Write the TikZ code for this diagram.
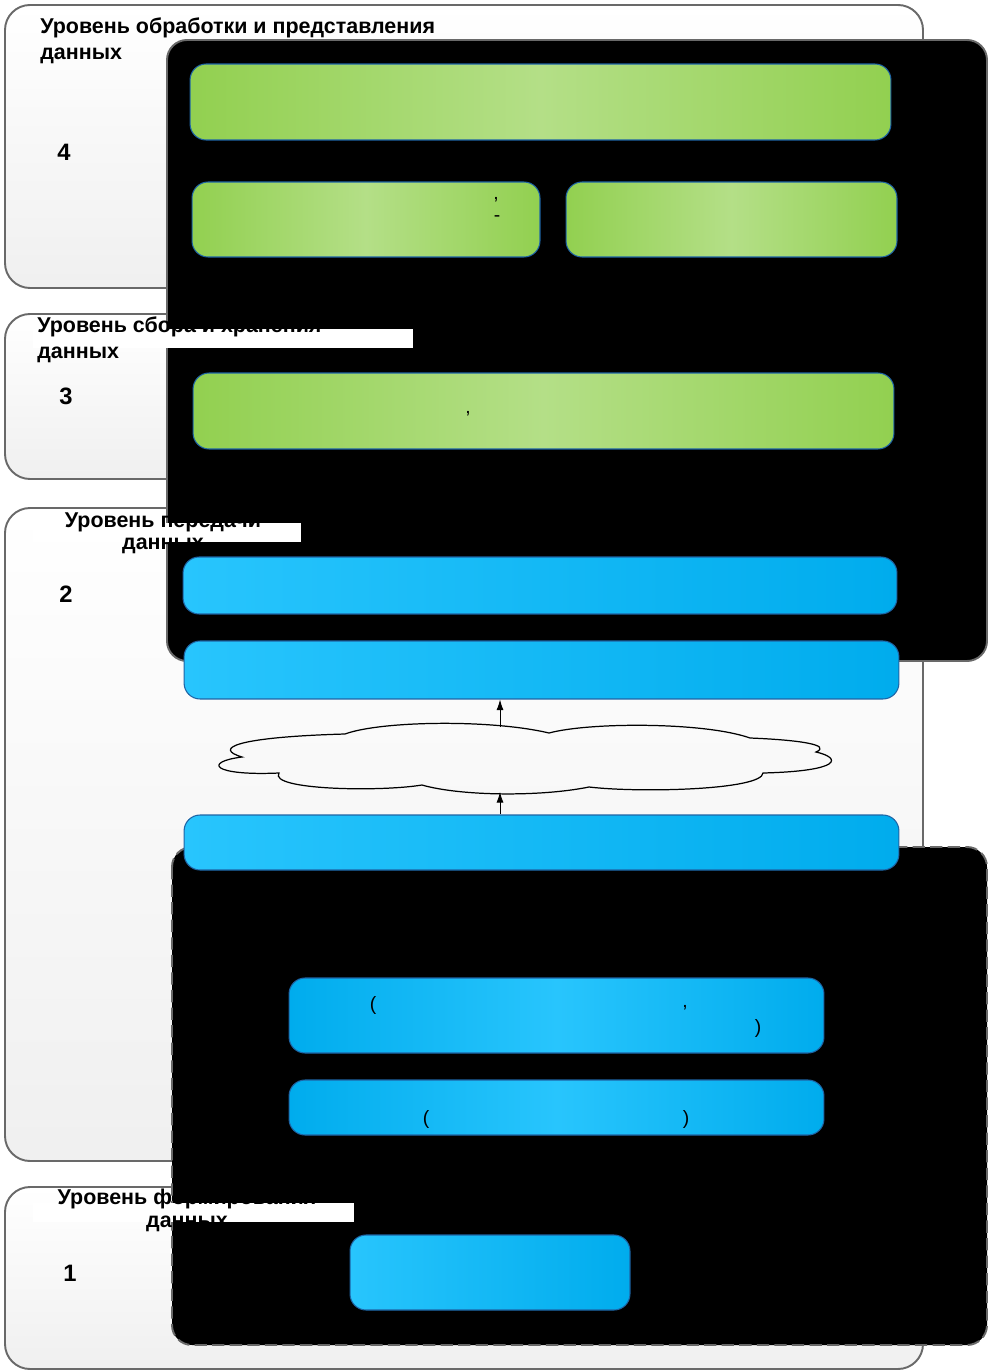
\documentclass[tikz,border=0pt]{standalone}
\usepackage{fontspec}
\setmainfont{Liberation Sans}
\usetikzlibrary{arrows.meta}
\definecolor{grdark}{RGB}{146,208,80}
\definecolor{grlight}{RGB}{180,223,135}
\definecolor{bllight}{RGB}{40,197,253}
\definecolor{bldark}{RGB}{0,172,237}
\definecolor{boxline}{RGB}{30,100,165}
\definecolor{panelline}{RGB}{105,105,105}
\begin{document}
\begin{tikzpicture}[x=0.02cm,y=-0.02cm,
	levelbox/.style={draw=panelline,line width=1.1pt,rounded corners=0.5cm,top color=white,bottom color=gray!12},
	darkpanel/.style={fill=black,draw=panelline,line width=1.1pt,rounded corners=0.4cm},
	greenbox/.style={draw=boxline,line width=0.6pt,rounded corners=0.32cm,inner sep=0,left color=grdark,right color=grdark,middle color=grlight},
	bluebox/.style={draw=boxline,line width=0.6pt,rounded corners=0.32cm,inner sep=0,left color=bllight,right color=bldark},
	blueboxmid/.style={draw=boxline,line width=0.6pt,rounded corners=0.32cm,inner sep=0,left color=bldark,right color=bldark,middle color=bllight},
	leveltitle/.style={inner sep=0,font=\bfseries\fontsize{12.2}{14.8}\selectfont},
	levelnum/.style={inner sep=0,font=\bfseries\fontsize{13.5}{16}\selectfont},
	punct/.style={inner sep=0,font=\fontsize{11}{13}\selectfont},
	arr/.style={-{Latex[length=6pt,width=4pt]},line width=0.5pt}]
	\useasboundingbox (0,0) rectangle (988,1371);
	% levels
	\draw[levelbox] (5,5) rectangle (923,288);
	\draw[levelbox] (5,314) rectangle (923,479);
	\draw[levelbox] (5,508) rectangle (923,1161);
	\draw[levelbox] (5,1187) rectangle (923,1369);
	% black panels
	\draw[darkpanel] (167,40) rectangle (987,661);
	\draw[darkpanel,dash pattern=on 7pt off 3pt] (172,847) rectangle (987,1345);
	% white bands under the titles
	\fill[white] (33,329) rectangle (413,348);
	\fill[white] (33,523) rectangle (301,542);
	\fill[white] (33,1203) rectangle (354,1222);
	% titles and numbers
	\node[leveltitle,anchor=north west,align=left] (t4) at (40,17) {Уровень обработки и представления\\данных};
	\node[leveltitle,anchor=north west,align=left] (t3) at (37,316) {Уровень сбора и хранения\\данных};
	\node[leveltitle,anchor=north,align=center] (t2) at (163,512) {Уровень передачи\\[-2pt]данных};
	\node[leveltitle,anchor=north,align=center] (t1) at (187,1189) {Уровень формирования\\[-2pt]данных};
	\node[levelnum] (n4) at (64,152) {4};
	\node[levelnum] (n3) at (66,396) {3};
	\node[levelnum] (n2) at (66,594) {2};
	\node[levelnum] (n1) at (70,1273) {1};
	% green boxes
	\node[greenbox,minimum width=14.02cm,minimum height=1.52cm] (g1) at (540.5,102) {};
	\node[greenbox,minimum width=6.96cm,minimum height=1.5cm] (g2) at (366,219.5) {};
	\node[greenbox,minimum width=6.62cm,minimum height=1.5cm] (g3) at (731.5,219.5) {};
	\node[greenbox,minimum width=14.02cm,minimum height=1.52cm] (g4) at (543.5,411) {};
	\node[punct] at (496,200) {,};
	\node[punct] at (497,219) {-};
	\node[punct] at (468,414) {,};
	% blue boxes
	\node[bluebox,minimum width=14.28cm,minimum height=1.14cm] (b1) at (540,585.5) {};
	\node[bluebox,minimum width=14.3cm,minimum height=1.16cm] (b2) at (541.5,670) {};
	\node[bluebox,minimum width=14.3cm,minimum height=1.1cm] (b3) at (541.5,842.5) {};
	\node[blueboxmid,minimum width=10.7cm,minimum height=1.5cm] (b4) at (556.5,1015.5) {};
	\node[blueboxmid,minimum width=10.7cm,minimum height=1.1cm] (b5) at (556.5,1107.5) {};
	\node[bluebox,minimum width=5.6cm,minimum height=1.5cm] (b6) at (490,1272.5) {};
	\node[punct] at (373,1005) {(};
	\node[punct] at (685,1008) {,};
	\node[punct] at (758,1028) {)};
	\node[punct] at (426,1119) {(};
	\node[punct] at (686,1119) {)};
	% the network cloud
	\draw[line width=0.7pt] (242,757)
		.. controls (212,748) and (238,737) .. (345,734)
		.. controls (380,721) and (490,719) .. (549,733)
		.. controls (590,722) and (705,722) .. (750,738)
		.. controls (800,740) and (832,745) .. (816,752)
		.. controls (842,758) and (842,771) .. (763,773)
		.. controls (762,790) and (640,793) .. (589,787)
		.. controls (540,797) and (460,796) .. (422,785)
		.. controls (380,792) and (268,790) .. (279,773)
		.. controls (212,776) and (203,762) .. (242,757) -- cycle;
	\coordinate (nettop) at (500,727);
	\coordinate (netbot) at (500,792);
	% arrows
	\draw[arr] (nettop) -- (b2.south -| nettop);
	\draw[arr] (b3.north -| netbot) -- (netbot);
\end{tikzpicture}
\end{document}
